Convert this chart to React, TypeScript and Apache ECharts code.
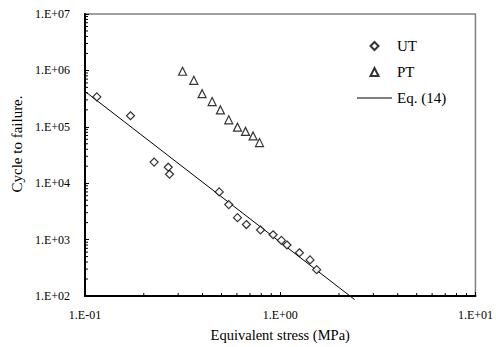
import React, { useEffect, useRef } from "react";
import * as echarts from "echarts";

// Equivalent stress (MPa) and cycles to failure
const utStress = [0.115, 0.171, 0.226, 0.267, 0.271, 0.487, 0.545, 0.604, 0.671, 0.792, 0.919, 1.014, 1.083, 1.254, 1.421, 1.537];
const utCycles = [339000, 157000, 23700, 19200, 14400, 7000, 4180, 2450, 1850, 1480, 1220, 968, 803, 585, 436, 293];

const ptStress = [0.316, 0.361, 0.398, 0.448, 0.494, 0.545, 0.604, 0.664, 0.726, 0.783];
const ptCycles = [965000, 666000, 386000, 280000, 199000, 133000, 98400, 83000, 68800, 52600];

// Eq. (14) line endpoints
const eqStress = [0.0962, 2.405];
const eqCycles = [471000, 86.3];

// Minor tick positions (axis decoration)
const xMinorTicks = [0.2, 0.3, 0.4, 0.5, 0.6, 0.7, 0.8, 0.9, 2, 3, 4, 5, 6, 7, 8, 9];
const yMinorTicks = [
  200, 300, 400, 500, 600, 700, 800, 900,
  2000, 3000, 4000, 5000, 6000, 7000, 8000, 9000,
  20000, 30000, 40000, 50000, 60000, 70000, 80000, 90000,
  200000, 300000, 400000, 500000, 600000, 700000, 800000, 900000,
  2000000, 3000000, 4000000, 5000000, 6000000, 7000000, 8000000, 9000000,
];

const FONT = "'Liberation Serif', 'Times New Roman', serif";

function sci(v: number): string {
  const e = Math.round(Math.log10(v));
  const sign = e < 0 ? "-" : "+";
  const a = Math.abs(e);
  return "1.E" + sign + (a < 10 ? "0" + a : String(a));
}

export default function App() {
  const ref = useRef<HTMLDivElement>(null);
  useEffect(() => {
    if (!ref.current) return;
    const chart = echarts.init(ref.current, null, { renderer: "svg" });
    chart.setOption({
      animation: false,
      backgroundColor: "#fff",
      textStyle: { fontFamily: FONT, color: "#000" },
      grid: {
        left: 85,
        right: 20,
        top: 14,
        bottom: 44,
        show: true,
        borderColor: "#808080",
        borderWidth: 1.5,
      },
      legend: {
        orient: "vertical",
        left: 352,
        top: 33.5,
        itemWidth: 35,
        itemHeight: 8,
        itemGap: 11,
        symbolKeepAspect: true,
        data: [
          { name: "UT", icon: "path://M4 0L8 4L4 8L0 4Z" },
          { name: "PT", icon: "path://M4 0L8 8L0 8Z" },
          { name: "Eq. (14)", icon: "path://M0 0H35V1H0Z" },
        ],
        textStyle: { fontFamily: FONT, fontSize: 15, lineHeight: 15, color: "#000" },
      },
      xAxis: {
        type: "log",
        logBase: 10,
        min: 0.1,
        max: 10,
        name: "Equivalent stress (MPa)",
        nameLocation: "middle",
        nameGap: 31,
        nameTextStyle: { fontFamily: FONT, fontSize: 14.5, color: "#000" },
        axisLine: { show: true, lineStyle: { color: "#000", width: 2 } },
        axisTick: { show: true, inside: true, length: 4, lineStyle: { color: "#000" } },
        axisLabel: { formatter: sci, fontFamily: FONT, fontSize: 12, color: "#000", margin: 13 },
        splitLine: { show: false },
      },
      yAxis: {
        type: "log",
        logBase: 10,
        min: 100,
        max: 10000000,
        name: "Cycle to failure.",
        nameLocation: "middle",
        nameGap: 56,
        nameTextStyle: { fontFamily: FONT, fontSize: 15, color: "#000", padding: [0, 0, 0, 22] },
        axisLine: { show: true, lineStyle: { color: "#000", width: 2 } },
        axisTick: { show: true, inside: true, length: 4, lineStyle: { color: "#000" } },
        axisLabel: { formatter: sci, fontFamily: FONT, fontSize: 12, color: "#000", margin: 15 },
        splitLine: { show: false },
      },
      series: [
        {
          name: "xMinor",
          type: "custom",
          silent: true,
          clip: false,
          data: xMinorTicks.map((v) => [v, 100]),
          renderItem: (params: any, api: any) => {
            const p = api.coord([api.value(0), 100]);
            return {
              type: "line",
              shape: { x1: p[0], y1: p[1], x2: p[0], y2: p[1] - 3 },
              style: { stroke: "#000", lineWidth: 1 },
            };
          },
          z: 5,
        },
        {
          name: "yMinor",
          type: "custom",
          silent: true,
          clip: false,
          data: yMinorTicks.map((v) => [0.1, v]),
          renderItem: (params: any, api: any) => {
            const p = api.coord([0.1, api.value(1)]);
            return {
              type: "line",
              shape: { x1: p[0], y1: p[1], x2: p[0] + 3, y2: p[1] },
              style: { stroke: "#000", lineWidth: 1 },
            };
          },
          z: 5,
        },
        {
          name: "Eq. (14)",
          type: "line",
          clip: false,
          symbol: "none",
          data: eqStress.map((x, i) => [x, eqCycles[i]]),
          lineStyle: { color: "#000", width: 1 },
          itemStyle: { color: "#000" },
          z: 3,
        },
        {
          name: "UT",
          type: "scatter",
          symbol: "diamond",
          symbolSize: 8,
          data: utStress.map((x, i) => [x, utCycles[i]]),
          itemStyle: { color: "#fff", borderColor: "#000", borderWidth: 1.2 },
          z: 4,
        },
        {
          name: "PT",
          type: "scatter",
          symbol: "triangle",
          symbolSize: 8,
          data: ptStress.map((x, i) => [x, ptCycles[i]]),
          itemStyle: { color: "#fff", borderColor: "#000", borderWidth: 1.2 },
          z: 4,
        },
      ],
    });
    return () => chart.dispose();
  }, []);
  return (
    <div
      ref={ref}
      style={{ position: "fixed", left: 0, top: 0, width: 496, height: 347 }}
    />
  );
}
